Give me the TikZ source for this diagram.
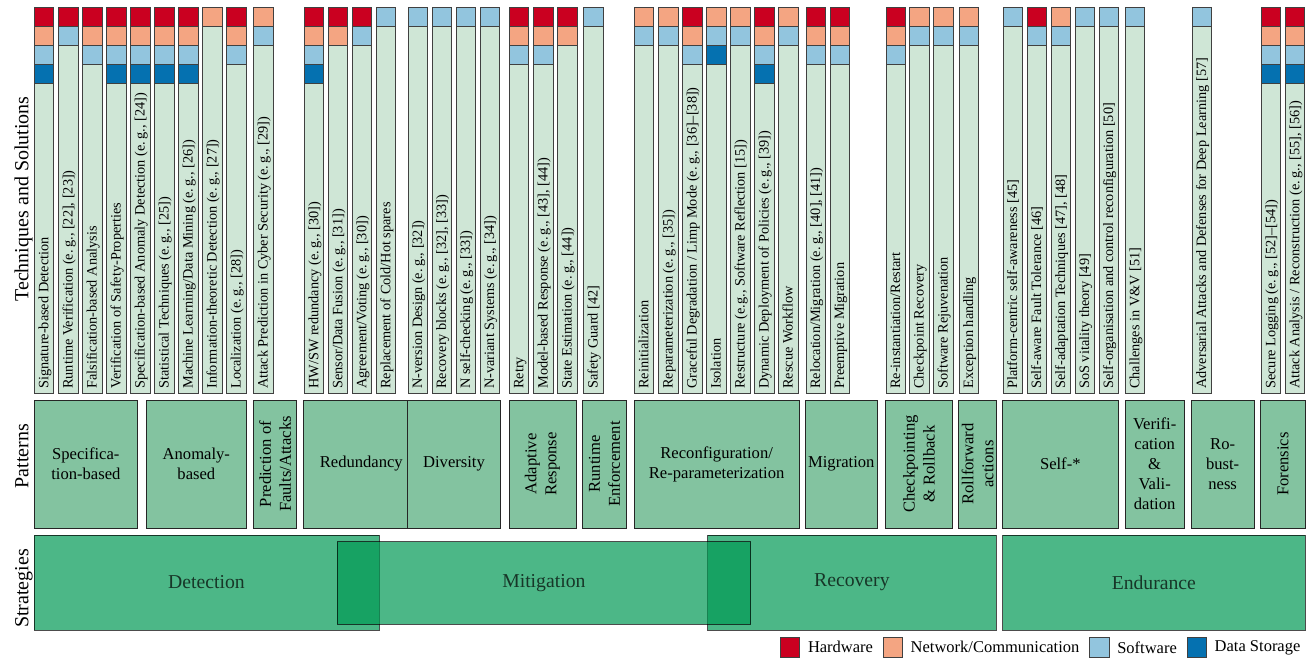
\documentclass[tikz,border=0pt]{standalone}
\usepackage{fontspec}
\setmainfont{Liberation Serif}
\usetikzlibrary{positioning}

\definecolor{cellH}{HTML}{CA0020}   % Hardware
\definecolor{cellN}{HTML}{F4A582}   % Network/Communication
\definecolor{cellS}{HTML}{92C5DE}   % Software
\definecolor{cellD}{HTML}{0571B0}   % Data Storage
\definecolor{techgreen}{RGB}{207,230,214}
\definecolor{pattgreen}{RGB}{131,195,160}
\definecolor{stratgreen}{RGB}{0,153,84}

\begin{document}
\begin{tikzpicture}[x=1pt, y=-1pt,
  every node/.style={draw=black!75, line width=0.8pt, inner sep=0pt, rectangle},
  techcol/.style={fill=techgreen, minimum width=19.3pt, minimum height=386.3pt, anchor=north west},
  techtext/.style={draw=none, rotate=90, anchor=base west, font=\fontsize{14.3}{16}\selectfont},
  cell/.style={fill=cell#1, minimum width=19.3pt, minimum height=19pt, anchor=north west},
  patt/.style={fill=pattgreen, draw=black!85, minimum height=128pt, align=center, font=\fontsize{16.6}{20}\selectfont},
  pattrot/.style={patt, rotate=90, minimum width=128pt, minimum height=#1},
  strat/.style={fill=stratgreen, draw=black, opacity=0.7, font=\fontsize{19.7}{22}\selectfont},
  side/.style={draw=none, rotate=90, anchor=base, font=\fontsize{20}{24}\selectfont},
  key/.style={minimum size=19.3pt, anchor=north west},
  keytext/.style={draw=none, font=\fontsize{16.5}{20}\selectfont}]
\useasboundingbox (0,0) rectangle (1312,660);

% Side labels
\node[side] (sidetech) at (28.3,199) {Techniques and Solutions};
\node[side] (sidepatt) at (28.3,456) {Patterns};
\node[side] (sidestrat) at (28.3,588.5) {Strategies};

% Techniques and solutions
\foreach \x/\cells/\lbl [count=\i] in {
  34/{H,N,S,D}/{Signature-based Detection},
  58.3/{H,S}/{Runtime Verification (e.\,g., [22], [23])},
  82.3/{H,N,S}/{Falsification-based Analysis},
  106.3/{H,N,S,D}/{Verification of Safety-Properties},
  130.3/{H,N,S,D}/{Specification-based Anomaly Detection (e.\,g., [24])},
  154.3/{H,N,S,D}/{Statistical Techniques (e.\,g., [25])},
  178.3/{H,N,S,D}/{Machine Learning/Data Mining (e.\,g., [26])},
  202.3/{N}/{Information-theoretic Detection (e.\,g., [27])},
  226.3/{H,N,S}/{Localization (e.\,g., [28])},
  253.3/{N,S}/{Attack Prediction in Cyber Security (e.\,g., [29])},
  304/{H,N,S,D}/{HW/SW redundancy (e.\,g., [30])},
  328/{H,N}/{Sensor/Data Fusion (e.\,g., [31])},
  352/{H,S}/{Agreement/Voting (e.\,g., [30])},
  376/{S}/{Replacement of Cold/Hot spares},
  407.7/{S}/{N-version Design (e.\,g., [32])},
  431.7/{S}/{Recovery blocks (e.\,g., [32], [33])},
  455.7/{S}/{N self-checking (e.\,g., [33])},
  479.7/{S}/{N-variant Systems (e.\,g., [34])},
  509/{H,N,S}/{Retry},
  533.3/{H,N,S}/{Model-based Response (e.\,g., [43], [44])},
  557.3/{H,N}/{State Estimation (e.\,g., [44])},
  583.3/{S}/{Safety Guard [42]},
  634/{N,S}/{Reinitialization},
  658.3/{N,S}/{Reparameterization (e.\,g., [35])},
  682.3/{H,N,S}/{Graceful Degradation / Limp Mode (e.\,g., [36]--[38])},
  706.3/{N,S,D}/{Isolation},
  730.3/{N,S}/{Restructure (e.g., Software Reflection [15])},
  754.3/{H,N,S,D}/{Dynamic Deployment of Policies (e.\,g., [39])},
  778.3/{N,S}/{Rescue Workflow},
  805.7/{H,N,S}/{Relocation/Migration (e.\,g., [40], [41])},
  829.7/{H,N,S}/{Preemptive Migration},
  885.7/{H,N,S}/{Re-instantiation/Restart},
  909.3/{N,S}/{Checkpoint Recovery},
  933.3/{N,S}/{Software Rejuvenation},
  958.7/{N,S}/{Exception handling},
  1002.7/{S}/{Platform-centric self-awareness [45]},
  1026.7/{H,S}/{Self-aware Fault Tolerance [46]},
  1050.7/{N,S}/{Self-adaptation Techniques [47], [48]},
  1074.7/{S}/{SoS vitality theory [49]},
  1098.7/{S}/{Self-organisation and control reconfiguration [50]},
  1125/{S}/{Challenges in V\&V [51]},
  1191.7/{S}/{Adversarial Attacks and Defenses for Deep Learning [57]},
  1261/{H,N,S,D}/{Secure Logging (e.\,g., [52]--[54])},
  1285/{H,N,S,D}/{Attack Analysis / Reconstruction (e.\,g., [55], [56])}}{
  \node[techcol] (t\i) at (\x,6.7) {};
  \foreach \c [count=\k] in \cells
    \node[cell=\c] (t\i-\k) at ([yshift={-(\k-1)*19pt}]t\i.north west) {};
  \node[techtext] (t\i-l) at ([xshift=14.3pt, yshift=4.7pt]t\i.south west) {\lbl};
}

% Patterns
\node[patt, minimum width=103.7pt] (spec) at (85.85,464) {Specifica-\\tion-based};
\node[patt, minimum width=100.7pt] (anom) at (196.35,464) {Anomaly-\\based};
\node[pattrot=43.4pt] (pred) at (275,464) {Prediction of\\Faults/Attacks};
\node[patt, minimum width=116pt] (redu) at (361.3,464) {Redundancy};
\node[patt, minimum width=93.4pt] (dive) at (454,464) {Diversity};
\node[pattrot=67pt] (adap) at (542.5,464) {Adaptive\\Response};
\node[pattrot=43.3pt] (runt) at (604.35,464) {Runtime\\Enforcement};
\node[patt, minimum width=164.7pt] (reco) at (716.65,464) {Reconfiguration/\\Re-parameterization};
\node[patt, minimum width=72pt] (migr) at (841.3,464) {Migration};
\node[pattrot=67.4pt] (chkp) at (919,464) {Checkpointing\\\& Rollback};
\node[pattrot=38.4pt] (rollf) at (977.5,464) {Rollforward\\actions};
\node[patt, minimum width=116pt] (self) at (1060.3,464) {Self-*};
\node[patt, minimum width=59.3pt] (vv) at (1154.65,464) {Verifi-\\cation\\\&\\Vali-\\dation};
\node[patt, minimum width=63.3pt] (robu) at (1222.65,464) {Ro-\\bust-\\ness};
\node[pattrot=44.3pt] (fore) at (1282.85,464) {Forensics};

% Strategies
\node[strat, minimum width=345pt, minimum height=95pt] (detect) at (206.5,582.5) {Detection};
\node[strat, minimum width=288.3pt, minimum height=95pt] (recover) at (851.85,582.5) {Recovery};
\node[strat, minimum width=302.3pt, minimum height=95pt] (endure) at (1153.85,582.5) {Endurance};
\node[strat, minimum width=413.7pt, minimum height=82.3pt] (mitig) at (543.85,582.85) {Mitigation};

% Legend
\node[key, fill=cellH] (khw) at (780,637.3) {};
\node[keytext, right=7.5pt of khw] (khwt) {Hardware};
\node[key, fill=cellN] (knw) at (882.7,637.3) {};
\node[keytext, right=7.5pt of knw] (knwt) {Network/Communication};
\node[key, fill=cellS] (ksw) at (1089.3,637.3) {};
\node[keytext, right=7.5pt of ksw] (kswt) {Software};
\node[key, fill=cellD] (kds) at (1186.7,637.3) {};
\node[keytext, right=7.5pt of kds] (kdst) {Data Storage};
\end{tikzpicture}
\end{document}
